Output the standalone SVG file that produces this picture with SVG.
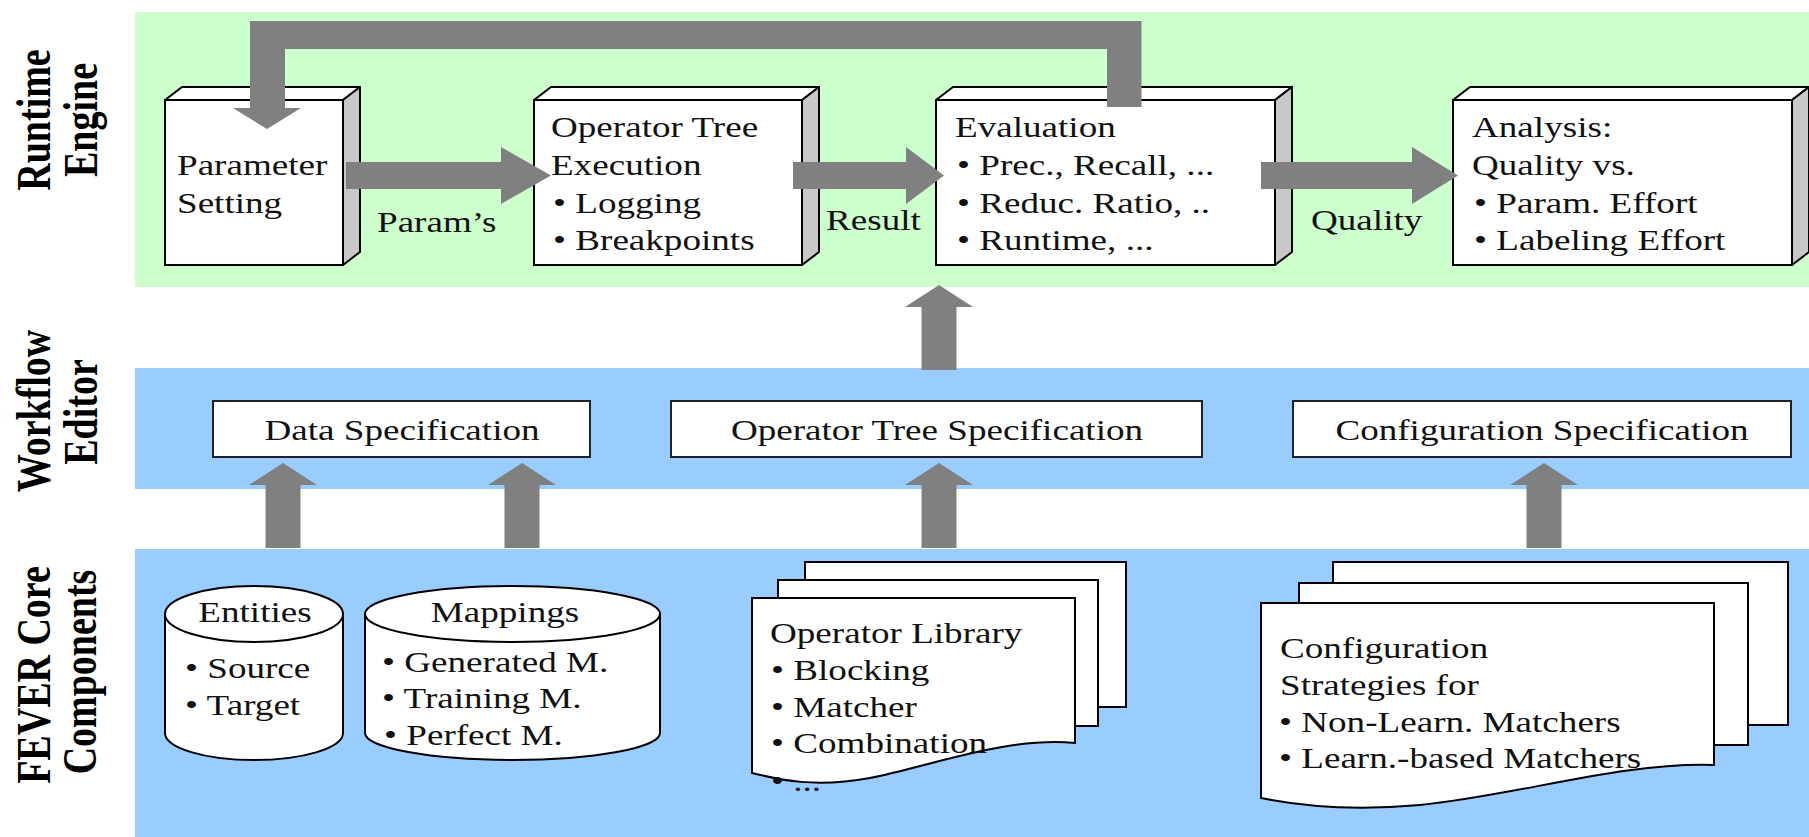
<svg xmlns="http://www.w3.org/2000/svg" width="1809" height="837" viewBox="0 0 1809 837">
  <style>
    .t { font-family: "Liberation Serif", "Times New Roman", serif; font-size: 29px; fill: #111; }
    .c { text-anchor: middle; }
    .lbl { font-family: "Liberation Serif", "Times New Roman", serif; font-size: 38px; font-weight: bold; fill: #000; text-anchor: middle; }
    .front { fill: #fff; stroke: #000; stroke-width: 2; }
    .top { fill: #fff; stroke: #000; stroke-width: 2; stroke-linejoin: round; }
    .side { fill: #c8c8c8; stroke: #000; stroke-width: 2; stroke-linejoin: round; }
    .spec { fill: #fff; stroke: #222; stroke-width: 2; }
    .page { fill: #fff; stroke: #000; stroke-width: 2; }
    .arrow { fill: #808080; stroke: none; }
  </style>

  <!-- layer bands -->
  <g id="bands">
    <rect x="135" y="12" width="1674" height="275" fill="#ccffcc"/>
    <rect x="135" y="368" width="1674" height="121" fill="#99ccff"/>
    <rect x="135" y="549" width="1674" height="288" fill="#99ccff"/>
  </g>

  <!-- layer captions -->
  <g id="layer-labels">
    <text class="lbl" transform="translate(50,120) scale(1.28,1) rotate(-90)">Runtime</text>
    <text class="lbl" transform="translate(97,120) scale(1.28,1) rotate(-90)">Engine</text>
    <text class="lbl" transform="translate(50,411) scale(1.28,1) rotate(-90)">Workflow</text>
    <text class="lbl" transform="translate(97,412) scale(1.28,1) rotate(-90)">Editor</text>
    <text class="lbl" transform="translate(50,675) scale(1.28,1) rotate(-90)">FEVER Core</text>
    <text class="lbl" transform="translate(96,672) scale(1.28,1) rotate(-90)">Components</text>
  </g>

  <!-- runtime engine blocks -->
  <g id="parameter-setting">
    <polygon class="top" points="165,100 182,87 360,87 343,100"/>
    <polygon class="side" points="343,100 360,87 360,252 343,265"/>
    <rect class="front" x="165" y="100" width="178" height="165"/>
    <text class="t" transform="matrix(1.28 0 0 1 177 175)">Parameter</text>
    <text class="t" transform="matrix(1.28 0 0 1 177 213)">Setting</text>
  </g>

  <g id="operator-tree-execution">
    <polygon class="top" points="534,100 551,87 819,87 802,100"/>
    <polygon class="side" points="802,100 819,87 819,252 802,265"/>
    <rect class="front" x="534" y="100" width="268" height="165"/>
    <text class="t" transform="matrix(1.28 0 0 1 551 137)">Operator Tree</text>
    <text class="t" transform="matrix(1.28 0 0 1 551 175)">Execution</text>
    <text class="t" transform="matrix(1.28 0 0 1 553 213)">• Logging</text>
    <text class="t" transform="matrix(1.28 0 0 1 553 250)">• Breakpoints</text>
  </g>

  <g id="evaluation">
    <polygon class="top" points="936,100 953,87 1292,87 1275,100"/>
    <polygon class="side" points="1275,100 1292,87 1292,252 1275,265"/>
    <rect class="front" x="936" y="100" width="339" height="165"/>
    <text class="t" transform="matrix(1.28 0 0 1 955 137)">Evaluation</text>
    <text class="t" transform="matrix(1.28 0 0 1 957 175)">• Prec., Recall, ...</text>
    <text class="t" transform="matrix(1.28 0 0 1 957 213)">• Reduc. Ratio, ..</text>
    <text class="t" transform="matrix(1.28 0 0 1 957 250)">• Runtime, ...</text>
  </g>

  <g id="analysis">
    <polygon class="top" points="1453,100 1470,87 1809,87 1792,100"/>
    <polygon class="side" points="1792,100 1809,87 1809,252 1792,265"/>
    <rect class="front" x="1453" y="100" width="339" height="165"/>
    <text class="t" transform="matrix(1.28 0 0 1 1472 137)">Analysis:</text>
    <text class="t" transform="matrix(1.28 0 0 1 1472 175)">Quality vs.</text>
    <text class="t" transform="matrix(1.28 0 0 1 1474 213)">• Param. Effort</text>
    <text class="t" transform="matrix(1.28 0 0 1 1474 250)">• Labeling Effort</text>
  </g>

  <!-- workflow editor blocks -->
  <g id="data-specification">
    <rect class="spec" x="213" y="401" width="377" height="56"/>
    <text class="t c" transform="matrix(1.28 0 0 1 402 440)">Data Specification</text>
  </g>
  <g id="operator-tree-specification">
    <rect class="spec" x="671" y="401" width="531" height="56"/>
    <text class="t c" transform="matrix(1.28 0 0 1 937 440)">Operator Tree Specification</text>
  </g>
  <g id="configuration-specification">
    <rect class="spec" x="1293" y="401" width="498" height="56"/>
    <text class="t c" transform="matrix(1.28 0 0 1 1542 440)">Configuration Specification</text>
  </g>

  <!-- core components -->
  <g id="entities">
    <path class="page" d="M165,614 V733 A89,27 0 0 0 343,733 V614 Z"/>
    <ellipse class="page" cx="254" cy="614" rx="89" ry="28"/>
    <text class="t c" transform="matrix(1.28 0 0 1 255 622)">Entities</text>
    <text class="t" transform="matrix(1.28 0 0 1 185 678)">• Source</text>
    <text class="t" transform="matrix(1.28 0 0 1 185 715)">• Target</text>
  </g>

  <g id="mappings">
    <path class="page" d="M365,614 V733 A147.5,27 0 0 0 660,733 V614 Z"/>
    <ellipse class="page" cx="512.5" cy="614" rx="147.5" ry="28"/>
    <text class="t c" transform="matrix(1.28 0 0 1 505 622)">Mappings</text>
    <text class="t" transform="matrix(1.28 0 0 1 382 672)">• Generated M.</text>
    <text class="t" transform="matrix(1.28 0 0 1 382 708)">• Training M.</text>
    <text class="t" transform="matrix(1.28 0 0 1 384 745)">• Perfect M.</text>
  </g>

  <g id="operator-library">
    <rect class="page" x="805" y="562" width="321" height="145"/>
    <rect class="page" x="778" y="580" width="320" height="146"/>
    <path class="page" d="M752,598 H1075 V743 C1010,736 930,766 870,778 C815,788 780,780 752,773 Z"/>
    <text class="t" transform="matrix(1.28 0 0 1 770 643)">Operator Library</text>
    <text class="t" transform="matrix(1.28 0 0 1 771 680)">• Blocking</text>
    <text class="t" transform="matrix(1.28 0 0 1 771 717)">• Matcher</text>
    <text class="t" transform="matrix(1.28 0 0 1 771 753)">• Combination</text>
    <text class="t" transform="matrix(1.28 0 0 1 771 791)">• ...</text>
  </g>

  <g id="configuration-strategies">
    <rect class="page" x="1333" y="562" width="455" height="163"/>
    <rect class="page" x="1299" y="583" width="449" height="162"/>
    <path class="page" d="M1261,603 H1714 V765 C1620,762 1520,795 1420,805 C1340,812 1290,804 1261,798 Z"/>
    <text class="t" transform="matrix(1.28 0 0 1 1280 658)">Configuration</text>
    <text class="t" transform="matrix(1.28 0 0 1 1280 695)">Strategies for</text>
    <text class="t" transform="matrix(1.28 0 0 1 1279 732)">• Non-Learn. Matchers</text>
    <text class="t" transform="matrix(1.28 0 0 1 1279 768)">• Learn.-based Matchers</text>
  </g>

  <!-- block arrows -->
  <g id="connectors">
    <!-- feedback loop: evaluation back to parameter setting -->
    <polygon class="arrow" points="1141.5,107 1141.5,21 250,21 250,108 233,108 267,129 301,108 285,108 285,49 1107,49 1107,107"/>
    <!-- Param's -->
    <polygon class="arrow" points="346,162 501,162 501,147 551,175.5 501,204 501,189 346,189"/>
    <text class="t" transform="matrix(1.28 0 0 1 377 232)">Param’s</text>
    <!-- Result -->
    <polygon class="arrow" points="793,162 906,162 906,147 944,175.5 906,204 906,189 793,189"/>
    <text class="t" transform="matrix(1.28 0 0 1 826 230)">Result</text>
    <!-- Quality -->
    <polygon class="arrow" points="1261,162 1412,162 1412,147 1458,175.5 1412,204 1412,189 1261,189"/>
    <text class="t" transform="matrix(1.28 0 0 1 1311 230)">Quality</text>
    <!-- workflow editor to evaluation -->
    <polygon class="arrow" points="921.5,370 921.5,307 905,307 939,285 973,307 956.5,307 956.5,370"/>
    <!-- core components up to workflow editor -->
    <polygon class="arrow" points="265.5,548 265.5,485 249,485 283,463 317,485 300.5,485 300.5,548"/>
    <polygon class="arrow" points="504.5,548 504.5,485 488,485 522,463 556,485 539.5,485 539.5,548"/>
    <polygon class="arrow" points="921.5,548 921.5,485 905,485 939,463 973,485 956.5,485 956.5,548"/>
    <polygon class="arrow" points="1526.5,548 1526.5,485 1510,485 1544,463 1578,485 1561.5,485 1561.5,548"/>
  </g>
</svg>
